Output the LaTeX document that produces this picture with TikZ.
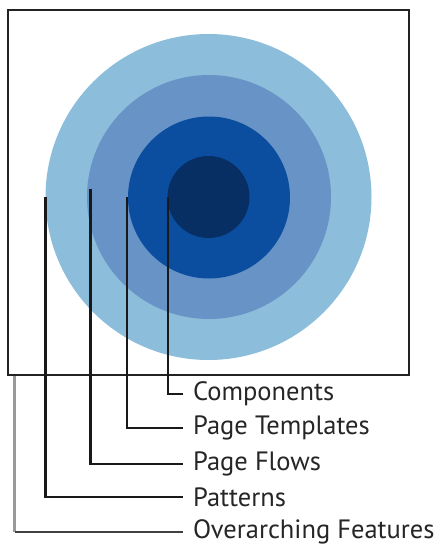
\documentclass[tikz,border=0pt]{standalone}
\usepackage{fontspec}
\setmainfont{PT Sans}
\definecolor{ring1}{HTML}{8CBDDB}
\definecolor{ring2}{HTML}{6893C6}
\definecolor{ring3}{HTML}{0B4EA0}
\definecolor{ring4}{HTML}{082F63}
\definecolor{framec}{HTML}{222222}
\tikzset{
  disc/.style={circle, inner sep=0pt, draw=none},
  lbl/.style={anchor=west, inner sep=0pt, font=\fontsize{26.5}{31}\selectfont, text=black!85},
  leader/.style={line width=2.2pt, black!90},
}
\begin{document}
\begin{tikzpicture}[x=1pt,y=-1pt]
\useasboundingbox (0,0) rectangle (444,546);
\fill[white] (0,0) rectangle (444,546);
% circles
\node[disc, fill=ring1, minimum size=326pt] (c1) at (208.5,197) {};
\node[disc, fill=ring2, minimum size=244pt] (c2) at (209,197) {};
\node[disc, fill=ring3, minimum size=162pt] (c3) at (209,197.5) {};
\node[disc, fill=ring4, minimum size=82pt] (c4) at (208.5,197) {};
% frame
\node[draw=framec, line width=1.6pt, inner sep=0pt, minimum width=401pt, minimum height=365pt] (frame) at (208.5,192.5) {};
% labels
\node[lbl] (l1) at (193,394) {Components};
\node[lbl] (l2) at (193,428) {Page Templates};
\node[lbl] (l3) at (193,464) {Page Flows};
\node[lbl] (l4) at (193,497) {Patterns};
\node[lbl] (l5) at (193,532) {Overarching Features};
% leader tops
\coordinate (t1) at (168,197);
\coordinate (t2) at (127,197);
\coordinate (t3) at (90.5,189);
\coordinate (t4) at (45.5,197);
\coordinate (t5) at (14.5,376);
\draw[leader] (t1) |- ([xshift=-10pt]l1.west);
\draw[leader] (t2) |- ([xshift=-10pt]l2.west);
\draw[leader] (t3) |- ([xshift=-10pt]l3.west);
\draw[leader] (t4) |- ([xshift=-10pt]l4.west);
\coordinate (k5) at (t5 |- l5.west);
\draw[line width=2.2pt, black!40] (t5) -- (k5);
\draw[line width=2.2pt, black!75] (k5) -- ([xshift=-10pt]l5.west);
\end{tikzpicture}
\end{document}
